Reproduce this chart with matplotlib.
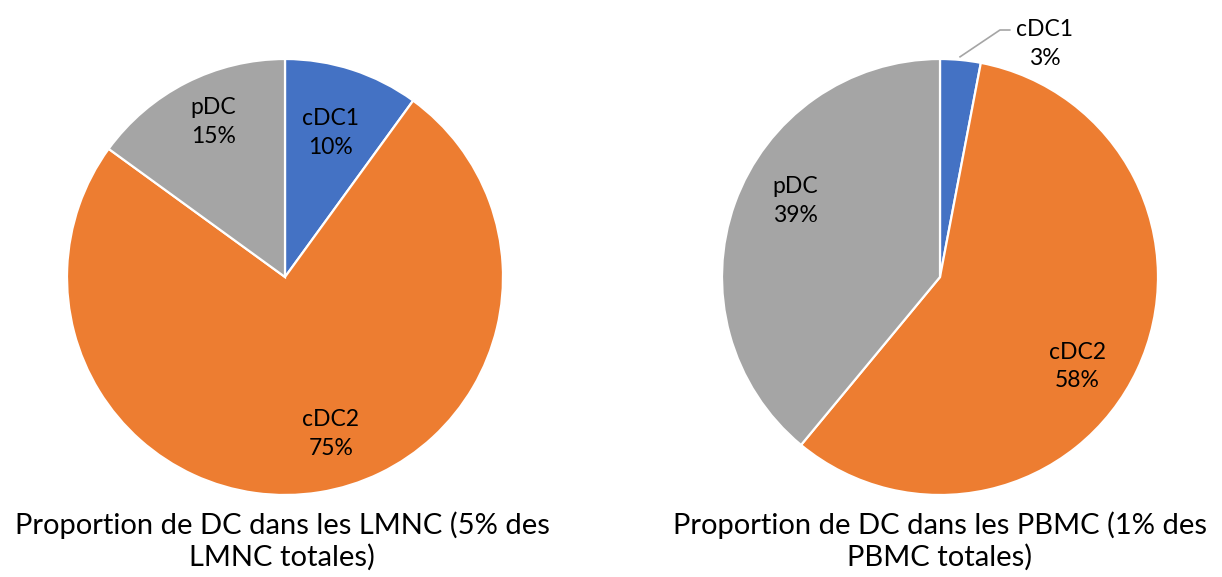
import matplotlib.pyplot as plt

plt.rcParams['font.family'] = ['Lato', 'DejaVu Sans']

labels = ["cDC1", "cDC2", "pDC"]
lmnc = [10, 75, 15]
pbmc = [3, 58, 39]
colors = ["#4472C4", "#ED7D31", "#A5A5A5"]

title_left = "Proportion de DC dans les LMNC (5% des\nLMNC totales)"
title_right = "Proportion de DC dans les PBMC (1% des\nPBMC totales)"

W, H = 1222, 577
fig = plt.figure(figsize=(W / 100, H / 100), dpi=100)

R = 218


def pie_axes(cx, cy):
    return fig.add_axes([(cx - R) / W, (H - cy - R) / H, 2 * R / W, 2 * R / H])


ax1 = pie_axes(285, 277)
ax2 = pie_axes(940, 277)

for ax, vals in [(ax1, lmnc), (ax2, pbmc)]:
    ax.pie(vals, colors=colors, startangle=90, counterclock=False,
           wedgeprops=dict(edgecolor="white", linewidth=1.6))
    ax.set_xlim(-1, 1)
    ax.set_ylim(-1, 1)
    ax.set_aspect("equal")
    ax.axis("off")

# label positions (data coords inside each pie)
left_pos = [(0.21, 0.66), (0.21, -0.72), (-0.33, 0.71)]
right_pos = [(0.48, 1.07), (0.63, -0.41), (-0.665, 0.35)]

for ax, vals, pos in [(ax1, lmnc, left_pos), (ax2, pbmc, right_pos)]:
    for lab, v, (x, y) in zip(labels, vals, pos):
        ax.text(x, y, "%s\n%d%%" % (lab, v), ha="center", va="center",
                fontsize=16.5, linespacing=1.45, clip_on=False)

# leader line for small slice
ax2.plot([0.092, 0.275, 0.32], [1.01, 1.133, 1.133], color="#A5A5A5",
         lw=1.2, clip_on=False)

fig.text(282 / W, 1 - 541 / H, title_left, ha="center", va="center",
         fontsize=21, linespacing=1.25)
fig.text(940 / W, 1 - 541 / H, title_right, ha="center", va="center",
         fontsize=21, linespacing=1.25)

fig.savefig("out.png", dpi=100, facecolor="white")
